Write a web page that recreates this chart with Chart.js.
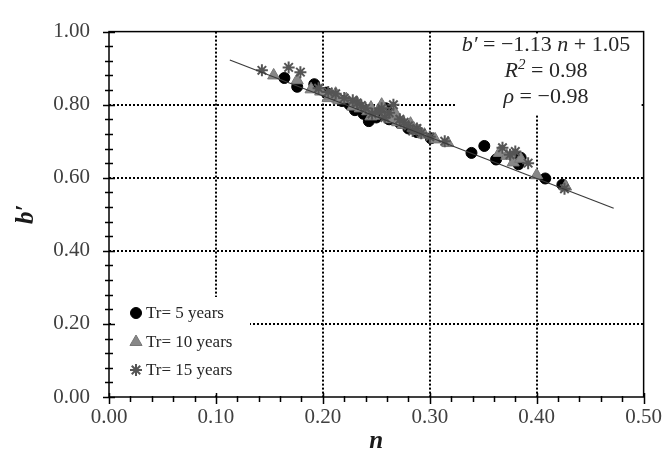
<!DOCTYPE html>
<html>
<head>
<meta charset="utf-8">
<script src="https://cdn.jsdelivr.net/npm/chart.js@4.4.0/dist/chart.umd.min.js"></script>
<style>
  html, body { margin: 0; padding: 0; background: #fff; }
  canvas { display: block; }
</style>
</head>
<body>
<canvas id="fitChart" width="670" height="459"></canvas>
<script>
// Tr = 5 years
var n5 = [0.164, 0.176, 0.192, 0.203, 0.210, 0.218, 0.225, 0.230, 0.238, 0.243, 0.250, 0.259, 0.262, 0.272, 0.280, 0.288, 0.301, 0.339, 0.351, 0.362, 0.383, 0.385, 0.408, 0.424];
var b5 = [0.873, 0.849, 0.856, 0.833, 0.822, 0.810, 0.800, 0.785, 0.775, 0.755, 0.765, 0.790, 0.760, 0.750, 0.735, 0.725, 0.708, 0.668, 0.687, 0.650, 0.637, 0.655, 0.598, 0.581];
// Tr = 10 years
var n10 = [0.154, 0.176, 0.189, 0.198, 0.205, 0.207, 0.212, 0.215, 0.222, 0.228, 0.232, 0.235, 0.242, 0.245, 0.245, 0.248, 0.252, 0.255, 0.258, 0.262, 0.265, 0.268, 0.270, 0.275, 0.282, 0.285, 0.290, 0.295, 0.305, 0.317, 0.365, 0.372, 0.378, 0.385, 0.400, 0.427];
var b10 = [0.880, 0.867, 0.842, 0.836, 0.818, 0.825, 0.830, 0.812, 0.815, 0.795, 0.805, 0.790, 0.782, 0.792, 0.768, 0.770, 0.785, 0.800, 0.772, 0.762, 0.760, 0.775, 0.752, 0.745, 0.748, 0.735, 0.728, 0.718, 0.705, 0.695, 0.668, 0.660, 0.642, 0.652, 0.607, 0.576];
// Tr = 15 years
var n15 = [0.143, 0.168, 0.179, 0.196, 0.205, 0.212, 0.220, 0.228, 0.232, 0.236, 0.240, 0.246, 0.252, 0.255, 0.258, 0.262, 0.266, 0.272, 0.276, 0.280, 0.284, 0.288, 0.292, 0.300, 0.314, 0.368, 0.375, 0.380, 0.392, 0.426];
var b15 = [0.894, 0.902, 0.889, 0.845, 0.835, 0.830, 0.818, 0.812, 0.805, 0.798, 0.790, 0.775, 0.780, 0.790, 0.765, 0.778, 0.800, 0.760, 0.752, 0.742, 0.728, 0.735, 0.722, 0.712, 0.700, 0.682, 0.663, 0.672, 0.640, 0.570];

// linear fit b' = slope * n + intercept
var fitSlope = -1.13;
var fitIntercept = 1.05;
var fitRange = [0.113, 0.472];

var seriesLabels = ['Tr= 5 years', 'Tr= 10 years', 'Tr= 15 years'];
var xTickLabels = ['0.00', '0.10', '0.20', '0.30', '0.40', '0.50'];
var yTickLabels = ['0.00', '0.20', '0.40', '0.60', '0.80', '1.00'];

function toPoints(xs, ys) {
    return xs.map(function (x, i) { return { x: x, y: ys[i] }; });
}

var serif = 'Liberation Serif, DejaVu Serif, serif';

// white boxes behind legend and equation (they hide the grid)
var boxesPlugin = {
    id: 'boxes',
    beforeDatasetsDraw: function (chart) {
        var ctx = chart.ctx, a = chart.chartArea;
        ctx.save();
        ctx.fillStyle = '#fff';
        ctx.fillRect(a.left + 2, 297, 250 - a.left - 2, a.bottom - 297 - 2);
        ctx.fillRect(457, a.top + 2, a.right - 457 - 2, 115 - a.top - 2);
        ctx.restore();
    }
};

// frame and tick marks
var framePlugin = {
    id: 'frame',
    afterDraw: function (chart) {
        var ctx = chart.ctx, a = chart.chartArea;
        var xs = chart.scales.x, ys = chart.scales.y;
        ctx.save();
        ctx.strokeStyle = '#000';
        ctx.lineWidth = 1.5;
        ctx.strokeRect(a.left, a.top, a.right - a.left, a.bottom - a.top);
        ctx.beginPath();
        ys.ticks.forEach(function (t) {
            var y = Math.round(ys.getPixelForValue(t.value)) + 0.5;
            var major = Math.round(t.value * 100) % 20 === 0;
            var len = major ? 6 : 4;
            ctx.moveTo(a.left - len, y);
            ctx.lineTo(a.left + len, y);
        });
        xs.ticks.forEach(function (t) {
            var x = Math.round(xs.getPixelForValue(t.value)) + 0.5;
            var major = Math.round(t.value * 100) % 10 === 0;
            ctx.moveTo(x, a.bottom - (major ? 4 : 1));
            ctx.lineTo(x, a.bottom + (major ? 7 : 5));
        });
        ctx.stroke();
        ctx.restore();
    }
};

// legend in the lower left corner of the plot
var legendPlugin = {
    id: 'innerLegend',
    afterDraw: function (chart) {
        var ctx = chart.ctx;
        var rows = [313, 342, 370];
        ctx.save();
        for (var i = 0; i < 3; i++) {
            var ds = chart.data.datasets[i];
            ctx.fillStyle = ds.backgroundColor;
            ctx.strokeStyle = ds.borderColor;
            ctx.lineWidth = ds.borderWidth;
            Chart.helpers.drawPoint(ctx, {
                pointStyle: ds.pointStyle,
                radius: ds.pointRadius,
                rotation: 0,
                borderWidth: ds.borderWidth
            }, 136, rows[i]);
            ctx.fillStyle = '#262626';
            ctx.font = '17px ' + serif;
            ctx.textBaseline = 'middle';
            ctx.textAlign = 'left';
            ctx.fillText(ds.label, 146, rows[i] + 1);
        }
        ctx.restore();
    }
};

// fit equation text, top right
var equationPlugin = {
    id: 'equation',
    afterDraw: function (chart) {
        var ctx = chart.ctx;
        var cx = 546;
        var lines = [
            { y: 45, parts: [['b\u2032', 'italic'], [' = \u22121.13 ', ''], ['n', 'italic'], [' + 1.05', '']] },
            { y: 71, parts: [['R', 'italic'], ['2', 'sup'], [' = 0.98', '']] },
            { y: 97, parts: [['\u03c1', 'italic'], [' = \u22120.98', '']] }
        ];
        ctx.save();
        ctx.fillStyle = '#262626';
        ctx.textBaseline = 'middle';
        ctx.textAlign = 'left';
        function fontFor(kind) {
            if (kind === 'italic') return 'italic 22px ' + serif;
            if (kind === 'sup') return 'italic 15px ' + serif;
            return '22px ' + serif;
        }
        lines.forEach(function (line) {
            var w = 0;
            line.parts.forEach(function (p) { ctx.font = fontFor(p[1]); w += ctx.measureText(p[0]).width; });
            var x = cx - w / 2;
            line.parts.forEach(function (p) {
                ctx.font = fontFor(p[1]);
                ctx.fillText(p[0], x, p[1] === 'sup' ? line.y - 6 : line.y);
                x += ctx.measureText(p[0]).width;
            });
        });
        ctx.restore();
    }
};

var ctx = document.getElementById('fitChart').getContext('2d');
var fitChart = new Chart(ctx, {
    type: 'scatter',
    data: {
        datasets: [{
            label: seriesLabels[0],
            data: toPoints(n5, b5),
            pointStyle: 'circle',
            pointRadius: 5.5,
            backgroundColor: '#000000',
            borderColor: '#000000',
            borderWidth: 1,
            order: 3
        }, {
            label: seriesLabels[1],
            data: toPoints(n10, b10),
            pointStyle: 'triangle',
            pointRadius: 7,
            backgroundColor: '#878787',
            borderColor: '#777777',
            borderWidth: 1,
            order: 2
        }, {
            label: seriesLabels[2],
            data: toPoints(n15, b15),
            pointStyle: 'star',
            pointRadius: 6,
            backgroundColor: '#555555',
            borderColor: '#555555',
            borderWidth: 2,
            order: 1
        }, {
            type: 'line',
            label: 'fit',
            data: fitRange.map(function (n) { return { x: n, y: fitSlope * n + fitIntercept }; }),
            borderColor: '#3a3a3a',
            borderWidth: 1.2,
            pointRadius: 0,
            fill: false,
            order: 0
        }]
    },
    options: {
        responsive: false,
        animation: false,
        layout: { padding: { top: 20, right: 23, left: 0, bottom: 0 } },
        plugins: { legend: { display: false }, tooltip: { enabled: false } },
        scales: {
            x: {
                type: 'linear',
                min: 0, max: 0.5,
                afterFit: function (s) { s.height = 62; },
                ticks: {
                    stepSize: 0.02,
                    autoSkip: false,
                    maxRotation: 0,
                    padding: 8,
                    color: '#404040',
                    font: { family: serif, size: 21 },
                    callback: function (v) {
                        var k = Math.round(v * 100);
                        return k % 10 === 0 ? xTickLabels[k / 10] : '';
                    }
                },
                grid: {
                    drawTicks: false,
                    lineWidth: 2,
                    color: function (c) {
                        var k = Math.round(c.tick.value * 100);
                        return (k % 10 === 0 && k > 0 && k < 50) ? '#000' : 'rgba(0,0,0,0)';
                    }
                },
                border: { display: false, dash: [2, 2] },
                title: {
                    display: true,
                    text: 'n',
                    color: '#1a1a1a',
                    font: { family: serif, size: 25, style: 'italic', weight: 'bold' },
                    padding: { top: 0, bottom: 2 }
                }
            },
            y: {
                type: 'linear',
                min: 0, max: 1,
                afterFit: function (s) { s.width = 109; },
                ticks: {
                    stepSize: 0.04,
                    autoSkip: false,
                    padding: 19,
                    color: '#404040',
                    font: { family: serif, size: 21 },
                    callback: function (v) {
                        var k = Math.round(v * 100);
                        return k % 20 === 0 ? yTickLabels[k / 20] : '';
                    }
                },
                grid: {
                    drawTicks: false,
                    lineWidth: 2,
                    color: function (c) {
                        var k = Math.round(c.tick.value * 100);
                        return (k % 20 === 0 && k > 0 && k < 100) ? '#000' : 'rgba(0,0,0,0)';
                    }
                },
                border: { display: false, dash: [2, 2] },
                title: {
                    display: true,
                    text: 'b\u2032',
                    color: '#1a1a1a',
                    font: { family: serif, size: 25, style: 'italic', weight: 'bold' },
                    padding: { top: 12, bottom: 0 }
                }
            }
        }
    },
    plugins: [boxesPlugin, framePlugin, legendPlugin, equationPlugin]
});
</script>
</body>
</html>
